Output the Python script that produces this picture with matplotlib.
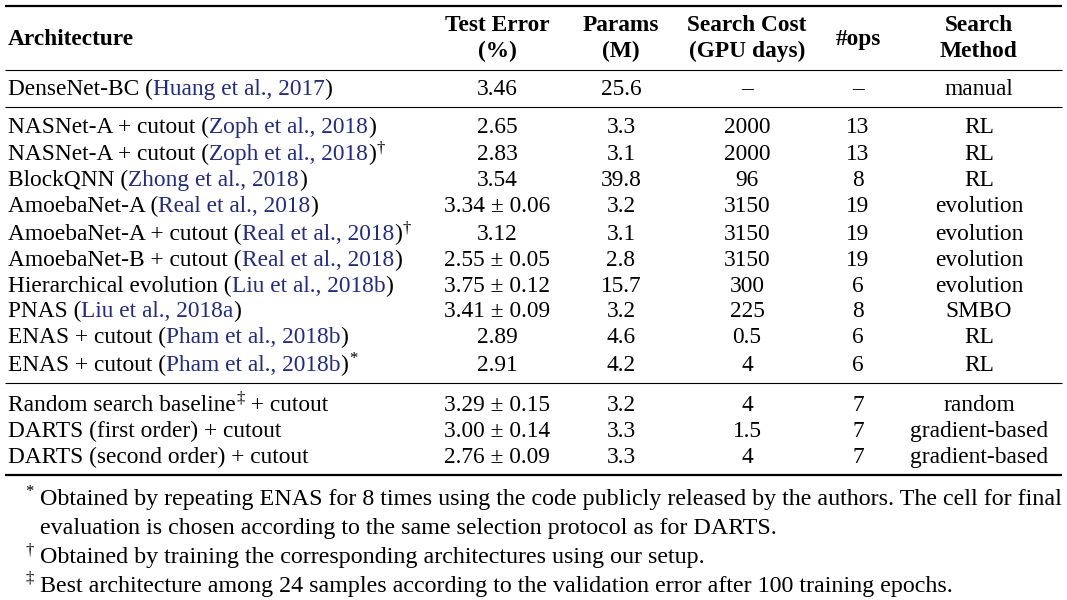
import matplotlib
matplotlib.use('Agg')
import matplotlib.pyplot as plt

plt.rcParams['font.family'] = ['Liberation Serif', 'DejaVu Serif']

# table content
arch = ['DenseNet-BC',
        'NASNet-A + cutout', 'NASNet-A + cutout', 'BlockQNN', 'AmoebaNet-A',
        'AmoebaNet-A + cutout', 'AmoebaNet-B + cutout', 'Hierarchical evolution',
        'PNAS', 'ENAS + cutout', 'ENAS + cutout',
        'Random search baseline', 'DARTS (first order) + cutout',
        'DARTS (second order) + cutout']
cites = ['Huang et al., 2017',
         'Zoph et al., 2018', 'Zoph et al., 2018', 'Zhong et al., 2018',
         'Real et al., 2018', 'Real et al., 2018', 'Real et al., 2018',
         'Liu et al., 2018b', 'Liu et al., 2018a', 'Pham et al., 2018b',
         'Pham et al., 2018b', '', '', '']
marks = ['', '', '\u2020', '', '', '\u2020', '', '', '', '', '*', '\u2021', '', '']
test_err = ['3.46', '2.65', '2.83', '3.54', '3.34 \u00b1 0.06', '3.12',
            '2.55 \u00b1 0.05', '3.75 \u00b1 0.12', '3.41 \u00b1 0.09', '2.89', '2.91',
            '3.29 \u00b1 0.15', '3.00 \u00b1 0.14', '2.76 \u00b1 0.09']
params = ['25.6', '3.3', '3.1', '39.8', '3.2', '3.1', '2.8', '15.7', '3.2', '4.6',
          '4.2', '3.2', '3.3', '3.3']
cost = ['\u2013', '2000', '2000', '96', '3150', '3150', '3150', '300', '225', '0.5',
        '4', '4', '1.5', '4']
ops = ['\u2013', '13', '13', '8', '19', '19', '19', '6', '8', '6', '6', '7', '7', '7']
method = ['manual', 'RL', 'RL', 'RL', 'evolution', 'evolution', 'evolution',
          'evolution', 'SMBO', 'RL', 'RL', 'random', 'gradient-based',
          'gradient-based']
notes = [('*', ['Obtained by repeating ENAS for 8 times using the code publicly released by the authors. The cell for final',
                'evaluation is chosen according to the same selection protocol as for DARTS.']),
         ('\u2020', ['Obtained by training the corresponding architectures using our setup.']),
         ('\u2021', ['Best architecture among 24 samples according to the validation error after 100 training epochs.'])]

row_y = [88, 126, 153, 179, 205, 233, 259, 285, 310, 336, 364, 404, 430, 456]
col_x = [497, 621, 747, 858, 979]
FS = 16.8
FN = 17.3
SUP = 12
CITE = '#1f2a8c'

fig = plt.figure(figsize=(10.67, 6), dpi=100)
ax = fig.add_axes([0, 0, 1, 1])
ax.set_xlim(0, 1067)
ax.set_ylim(600, 0)
ax.axis('off')
fig.canvas.draw()
renderer = fig.canvas.get_renderer()


def right_of(t):
    bb = t.get_window_extent(renderer)
    return ax.transData.inverted().transform((bb.x1, bb.y0))[0]


def rich(x, yb, pieces):
    # pieces: (text, color, raised)
    for txt, col, sup in pieces:
        if sup:
            t = ax.text(x + 1, yb - 8, txt, fontsize=SUP, color=col, va='baseline')
        else:
            t = ax.text(x, yb, txt, fontsize=FS, color=col, va='baseline')
        x = right_of(t)
    return x


# rules
for y, lw in [(6, 1.6), (70, 0.8), (107, 0.8), (383, 0.8), (475, 1.6)]:
    ax.plot([5, 1062], [y, y], color='black', lw=lw, solid_capstyle='butt')

# header
ax.text(8, 45, 'Architecture', fontsize=FS, fontweight='bold', va='baseline')
heads = [('Test Error', '(%)'), ('Params', '(M)'), ('Search Cost', '(GPU days)'),
         ('#ops', None), ('Search', 'Method')]
for cx, (h1, h2) in zip(col_x, heads):
    if h2 is None:
        ax.text(cx, 45, h1, fontsize=FS, fontweight='bold', ha='center', va='baseline')
    else:
        ax.text(cx, 31, h1, fontsize=FS, fontweight='bold', ha='center', va='baseline')
        ax.text(cx, 57, h2, fontsize=FS, fontweight='bold', ha='center', va='baseline')

# rows
for i in range(len(arch)):
    yb = row_y[i] + 7
    if cites[i]:
        pieces = [(arch[i] + ' (', 'black', False), (cites[i], CITE, False), (')', 'black', False)]
        if marks[i]:
            pieces.append((marks[i], 'black', True))
    elif marks[i]:
        pieces = [('Random search baseline', 'black', False), (marks[i], 'black', True),
                  (' + cutout', 'black', False)]
    else:
        pieces = [(arch[i], 'black', False)]
    rich(8, yb, pieces)
    for cx, v in zip(col_x, [test_err[i], params[i], cost[i], ops[i], method[i]]):
        ax.text(cx, yb, v, fontsize=FS, ha='center', va='baseline')

# footnotes
yb = 505
for sym, lines in notes:
    ax.text(25, yb - 9, sym, fontsize=SUP, va='baseline')
    for ln in lines:
        ax.text(40, yb, ln, fontsize=FN, va='baseline')
        yb += 29

fig.savefig('out.png', dpi=100)
